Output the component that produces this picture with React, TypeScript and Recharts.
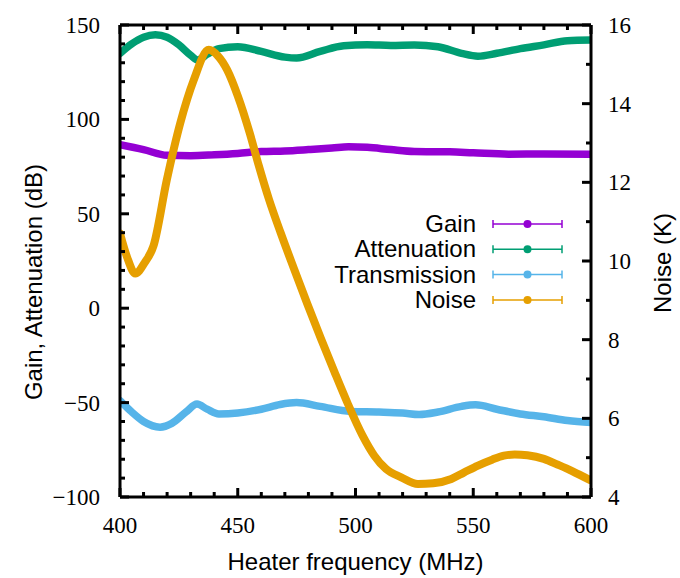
import React from 'react';
import { ComposedChart, Line, XAxis, YAxis, Label } from 'recharts';

// ---------- data ----------
const gainFreq = [400, 410, 420, 430, 440, 450, 460, 470, 480, 490, 497, 505, 515, 525, 540, 550, 565, 580, 600];
const gainDb = [86.6, 84, 81, 80.8, 81.3, 82, 83, 83.3, 84, 84.8, 85.5, 85.2, 84, 83, 82.8, 82.3, 81.6, 81.7, 81.6];

const attFreq = [400, 405, 410, 415, 420, 425, 430, 433, 437, 442, 450, 460, 470, 475, 485, 495, 505, 515, 525, 535, 545, 552, 560, 570, 580, 590, 600];
const attDb = [135, 140, 143.5, 144.8, 143.5, 139.5, 134, 131.5, 134.5, 137.5, 138.5, 136, 133, 132.5, 136, 139, 139.5, 139.2, 139.4, 138.5, 135, 133.5, 135, 137.5, 139.5, 141.7, 142];

const transFreq = [400, 405, 410, 417, 422, 428, 432.7, 437, 442, 450, 460, 468, 475, 485, 498, 510, 520, 527, 535, 545, 551, 560, 570, 580, 590, 600];
const transDb = [-49, -55, -60, -63, -61, -55, -50.8, -53.5, -56, -55.5, -53.5, -51, -50, -52, -54.7, -55, -55.5, -56.3, -55, -52, -51.2, -53.5, -56, -57.5, -59.5, -60.5];

const noiseFreq = [400, 403, 406.5, 410.5, 414.2, 419.9, 425.6, 431.3, 437.7, 441.5, 445.5, 450, 455.1, 459, 463.3, 468.2, 473.9, 479.6, 485.3, 491, 496.6, 503, 508, 513, 519.4, 526.5, 533, 540.7, 546, 552, 558, 563, 567.6, 573, 580, 586, 592, 598.6, 600];
const noiseK = [10.7, 10.1, 9.68, 9.96, 10.38, 12.07, 13.51, 14.6, 15.37, 15.22, 14.86, 14.2, 13.25, 12.41, 11.56, 10.72, 9.8, 8.9, 8.03, 7.19, 6.39, 5.56, 5.05, 4.71, 4.5, 4.33, 4.35, 4.46, 4.62, 4.8, 4.95, 5.05, 5.08, 5.06, 4.97, 4.82, 4.66, 4.46, 4.42];

const seriesNames = ['Gain', 'Attenuation', 'Transmission', 'Noise'];
const seriesColors = ['#9400d3', '#009e73', '#56b4e9', '#e69f00'];

const xTicks = [400, 410, 420, 430, 440, 450, 460, 470, 480, 490, 500, 510, 520, 530, 540, 550, 560, 570, 580, 590, 600];
const xMajor = [400, 450, 500, 550, 600];
const leftTicks = [-100, -90, -80, -70, -60, -50, -40, -30, -20, -10, 0, 10, 20, 30, 40, 50, 60, 70, 80, 90, 100, 110, 120, 130, 140, 150];
const leftMajor = [-100, -50, 0, 50, 100, 150];
const rightTicks = [4, 5, 6, 7, 8, 9, 10, 11, 12, 13, 14, 15, 16];
const rightMajor = [4, 6, 8, 10, 12, 14, 16];

const gainData = gainFreq.map((f, i) => ({ f, v: gainDb[i] }));
const attData = attFreq.map((f, i) => ({ f, v: attDb[i] }));
const transData = transFreq.map((f, i) => ({ f, v: transDb[i] }));
const noiseData = noiseFreq.map((f, i) => ({ f, v: noiseK[i] }));

// ---------- styles ----------
const SERIF = 'serif';
const SANS = 'Liberation Sans';
const TICK_FS = 23;
const SANS_FS = 24;
const MAJ = 9;
const MIN = 5;
const TW = 3;
const fmt = (v: number) => (v < 0 ? '\u2212' + Math.abs(v) : String(v));

const renderBottomTick = (props: any) => {
  const { x, y, payload } = props;
  const v = payload.value;
  const major = xMajor.includes(v);
  return (
    <g key={'b' + v}>
      <path d={`M${x},${y}V${y - (major ? MAJ : MIN)}`} stroke="#000000" strokeWidth={TW} fill="none" />
      {major && (
        <text x={x} y={y + 36} textAnchor="middle" fontFamily={SERIF} fontSize={TICK_FS} fill="#000">
          {fmt(v)}
        </text>
      )}
    </g>
  );
};

const renderTopTick = (props: any) => {
  const { x, y, payload } = props;
  const major = xMajor.includes(payload.value);
  return <path d={`M${x},${y}V${y + (major ? MAJ : MIN)}`} stroke="#000000" strokeWidth={TW} fill="none" />;
};

const renderLeftTick = (props: any) => {
  const { x, y, payload } = props;
  const v = payload.value;
  const major = leftMajor.includes(v);
  return (
    <g key={'l' + v}>
      <path d={`M${x},${y}H${x + (major ? MAJ : MIN)}`} stroke="#000000" strokeWidth={TW} fill="none" />
      {major && (
        <text x={x - 20} y={y + 8} textAnchor="end" fontFamily={SERIF} fontSize={TICK_FS} fill="#000">
          {fmt(v)}
        </text>
      )}
    </g>
  );
};

const renderRightTick = (props: any) => {
  const { x, y, payload } = props;
  const v = payload.value;
  const major = rightMajor.includes(v);
  return (
    <g key={'r' + v}>
      <path d={`M${x},${y}H${x - (major ? MAJ : MIN)}`} stroke="#000000" strokeWidth={TW} fill="none" />
      {major && (
        <text x={x + 17} y={y + 8} textAnchor="start" fontFamily={SERIF} fontSize={TICK_FS} fill="#000">
          {fmt(v)}
        </text>
      )}
    </g>
  );
};

const LegendBox = () => (
  <svg width={680} height={578} style={{ position: 'absolute', left: 0, top: 0, pointerEvents: 'none' }}>
    {seriesNames.map((name, i) => {
      const cy = 224 + i * 25.3;
      const c = seriesColors[i];
      return (
        <g key={name}>
          <text x={476} y={cy + 8} textAnchor="end" fontFamily={SANS} fontSize={SANS_FS} fill="#000">
            {name}
          </text>
          <line x1={493} x2={562} y1={cy} y2={cy} stroke={c} strokeWidth={1.5} />
          <line x1={493} x2={493} y1={cy - 4} y2={cy + 4} stroke={c} strokeWidth={1.5} />
          <line x1={562} x2={562} y1={cy - 4} y2={cy + 4} stroke={c} strokeWidth={1.5} />
          <circle cx={527.5} cy={cy} r={4} fill={c} />
        </g>
      );
    })}
  </svg>
);

const axisLineStyle = { stroke: '#000', strokeWidth: 3 };

export default function App() {
  return (
    <div style={{ position: 'absolute', left: 0, top: 0, width: 680, height: 578, background: '#fff' }}>
      <ComposedChart width={680} height={578} margin={{ top: 0, right: 0, bottom: 0, left: 0 }}>
        <XAxis
          xAxisId="bottom"
          dataKey="f"
          type="number"
          domain={[400, 600]}
          ticks={xTicks}
          interval={0}
          orientation="bottom"
          height={81}
          tickSize={0}
          tickMargin={0}
          tickLine={false}
          axisLine={axisLineStyle}
          tick={renderBottomTick}
          allowDataOverflow
        >
          <Label
            content={() => (
              <text x={355.5} y={570} textAnchor="middle" fontFamily={SANS} fontSize={SANS_FS} fill="#000">
                Heater frequency (MHz)
              </text>
            )}
          />
        </XAxis>
        <XAxis
          xAxisId="top"
          dataKey="f"
          type="number"
          domain={[400, 600]}
          ticks={xTicks}
          interval={0}
          orientation="top"
          height={25}
          tickSize={0}
          tickMargin={0}
          tickLine={false}
          axisLine={axisLineStyle}
          tick={renderTopTick}
          allowDataOverflow
        />
        <YAxis
          yAxisId="left"
          type="number"
          domain={[-100, 150]}
          ticks={leftTicks}
          interval={0}
          orientation="left"
          width={120}
          tickSize={0}
          tickMargin={0}
          tickLine={false}
          axisLine={axisLineStyle}
          tick={renderLeftTick}
          allowDataOverflow
        >
          <Label
            content={() => (
              <text
                x={33}
                y={282}
                transform="rotate(-90 33 282)"
                textAnchor="middle"
                dominantBaseline="central"
                fontFamily={SANS}
                fontSize={SANS_FS}
                fill="#000"
              >
                Gain, Attenuation (dB)
              </text>
            )}
          />
        </YAxis>
        <YAxis
          yAxisId="right"
          type="number"
          domain={[4, 16]}
          ticks={rightTicks}
          interval={0}
          orientation="right"
          width={89}
          tickSize={0}
          tickMargin={0}
          tickLine={false}
          axisLine={axisLineStyle}
          tick={renderRightTick}
          allowDataOverflow
        >
          <Label
            content={() => (
              <text
                x={662}
                y={263}
                transform="rotate(-90 662 263)"
                textAnchor="middle"
                dominantBaseline="central"
                fontFamily={SANS}
                fontSize={SANS_FS}
                fill="#000"
              >
                Noise (K)
              </text>
            )}
          />
        </YAxis>
        <Line data={gainData} dataKey="v" name={seriesNames[0]} xAxisId="bottom" yAxisId="left" type="monotone"
          stroke={seriesColors[0]} strokeWidth={7.5} dot={false} isAnimationActive={false} strokeLinecap="round" />
        <Line data={attData} dataKey="v" name={seriesNames[1]} xAxisId="bottom" yAxisId="left" type="monotone"
          stroke={seriesColors[1]} strokeWidth={7.5} dot={false} isAnimationActive={false} strokeLinecap="round" />
        <Line data={transData} dataKey="v" name={seriesNames[2]} xAxisId="bottom" yAxisId="left" type="monotone"
          stroke={seriesColors[2]} strokeWidth={7.5} dot={false} isAnimationActive={false} strokeLinecap="round" />
        <Line data={noiseData} dataKey="v" name={seriesNames[3]} xAxisId="bottom" yAxisId="right" type="monotone"
          stroke={seriesColors[3]} strokeWidth={8} dot={false} isAnimationActive={false} strokeLinecap="round" />
      </ComposedChart>
      <LegendBox />
    </div>
  );
}
